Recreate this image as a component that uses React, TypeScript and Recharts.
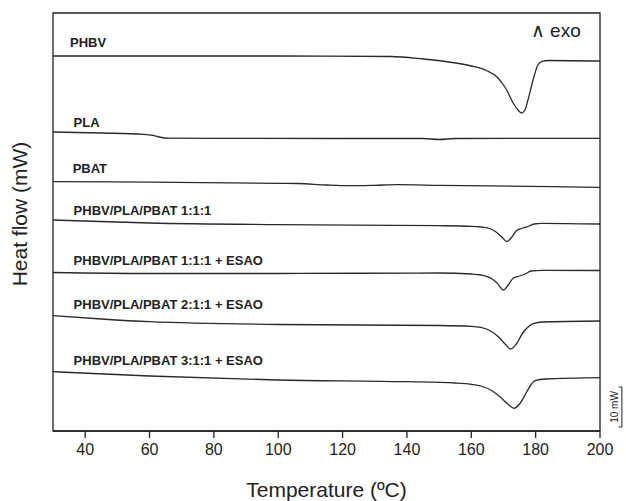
import React from "react";
import {
  LineChart,
  Line,
  XAxis,
  YAxis,
  ReferenceArea,
  ReferenceDot,
  ReferenceLine,
} from "recharts";

// temperature (°C) / heat flow (mW, curves stacked with offsets)
const T_PHBV = [30, 100, 135, 145, 153, 160, 163, 165, 168, 170, 171, 173, 174.5, 175.6, 176.7, 177.6, 179.2, 180.7, 182, 184, 200];
const HF_PHBV = [93.75, 93.75, 93.63, 93, 92.25, 91.25, 90.63, 90, 88.5, 86.5, 85.25, 82, 80.25, 79.5, 80.25, 82.75, 87.75, 91.5, 92.38, 92.63, 92.5];

const T_PLA = [30, 45, 58, 61, 63, 66, 80, 120, 145, 150, 155, 200];
const HF_PLA = [74.75, 74.5, 74.18, 73.93, 73.5, 73.2, 73.18, 73.13, 73.13, 72.88, 73.13, 73.18];

const T_PBAT = [30, 60, 100, 106, 115, 122, 130, 137, 150, 185, 200];
const HF_PBAT = [62.33, 62.2, 61.93, 61.88, 61.5, 61.33, 61.43, 61.58, 61.43, 61.08, 60.88];

const T_B111 = [30, 60, 100, 150, 160, 163, 166, 167.5, 169.5, 171, 172.5, 174, 176, 178, 179.5, 182, 200];
const HF_B111 = [52.75, 52, 51.58, 51.33, 51.18, 51, 50.5, 49.88, 48.5, 47.33, 48.38, 50.08, 50.75, 51.25, 51.75, 51.93, 51.75];

const T_B111E = [30, 60, 100, 150, 160, 163, 166.5, 168, 170, 171.5, 173, 175, 177, 178.5, 182, 200];
const HF_B111E = [39.63, 39.38, 39.38, 39.5, 39.25, 39, 38, 37, 35.25, 36.5, 38.18, 38.75, 39.38, 40, 40.18, 40.13];

const T_B211E = [30, 45, 60, 100, 150, 160, 163, 166, 168.5, 170.5, 172.2, 174, 176, 178, 179.5, 182, 200];
const HF_B211E = [28.83, 28, 27.33, 26.63, 26.38, 26.18, 25.88, 25, 23.5, 21.75, 20.5, 21.75, 24.5, 26.25, 26.93, 27.25, 27.5];

const T_B311E = [30, 60, 100, 140, 155, 160, 163, 166.5, 169, 171.5, 173.3, 175, 177.2, 178.5, 180, 183, 200];
const HF_B311E = [14.83, 13.75, 12.75, 12.33, 12, 11.68, 11.25, 10, 8.5, 6.63, 5.68, 6.75, 9.75, 11.5, 12.63, 13, 13.33];

const NAMES = [
  "PHBV",
  "PLA",
  "PBAT",
  "PHBV/PLA/PBAT 1:1:1",
  "PHBV/PLA/PBAT 1:1:1 + ESAO",
  "PHBV/PLA/PBAT 2:1:1 + ESAO",
  "PHBV/PLA/PBAT 3:1:1 + ESAO",
];
const TEMPS = [T_PHBV, T_PLA, T_PBAT, T_B111, T_B111E, T_B211E, T_B311E];
const VALUES = [HF_PHBV, HF_PLA, HF_PBAT, HF_B111, HF_B111E, HF_B211E, HF_B311E];

const X_TICKS = [40, 60, 80, 100, 120, 140, 160, 180, 200];

// where the curve names sit (data coords)
const LABEL_T = [35.3, 36.4, 36.1, 36.4, 36.4, 36.4, 36.4];
const LABEL_HF = [97.25, 77.25, 65.75, 55.25, 42.75, 31.75, 17.75];

const Y_MAX = 104.5;
const INK = "#222";
const FONT = "'Liberation Sans', Arial, sans-serif";

const series = NAMES.map((name, i) => ({
  name,
  data: TEMPS[i].map((t, j) => ({ t, hf: VALUES[i][j] })),
}));

const textShape =
  (value: string, opts: { size: number; bold?: boolean; anchor?: string; rotate?: boolean }) =>
  (p: any) => (
    <text
      x={p.cx}
      y={p.cy}
      fontSize={opts.size}
      fontWeight={opts.bold ? "bold" : "normal"}
      fontFamily={FONT}
      fill={INK}
      textAnchor={opts.anchor ?? "start"}
      dominantBaseline="central"
      transform={opts.rotate ? `rotate(-90 ${p.cx} ${p.cy})` : undefined}
    >
      {value}
    </text>
  );

export default function App() {
  return (
    <div style={{ position: "absolute", left: 0, top: 0, background: "#fff" }}>
      <LineChart
        width={626}
        height={501}
        margin={{ top: 13, right: 26, left: 53, bottom: 0 }}
      >
        <XAxis
          dataKey="t"
          type="number"
          domain={[30, 200]}
          ticks={X_TICKS}
          allowDataOverflow
          height={70}
          tickSize={7}
          tickMargin={6}
          tick={{ fontSize: 16, fill: INK, fontFamily: FONT }}
          tickLine={{ stroke: INK, strokeWidth: 1.3 }}
          axisLine={{ stroke: INK, strokeWidth: 1.3 }}
        />
        <YAxis hide type="number" domain={[0, Y_MAX]} allowDataOverflow />
        <ReferenceArea
          x1={30}
          x2={200}
          y1={0}
          y2={Y_MAX}
          fill="none"
          fillOpacity={0}
          stroke={INK}
          strokeWidth={1.3}
          ifOverflow="visible"
        />
        {series.map((s) => (
          <Line
            key={s.name}
            data={s.data}
            dataKey="hf"
            type="monotone"
            stroke="#2a2a2a"
            strokeWidth={1.3}
            dot={false}
            isAnimationActive={false}
          />
        ))}
        {NAMES.map((name, i) => (
          <ReferenceDot
            key={"lbl" + i}
            x={LABEL_T[i]}
            y={LABEL_HF[i]}
            ifOverflow="visible"
            shape={textShape(name, { size: 13, bold: true })}
          />
        ))}
        <ReferenceDot
          x={178.5}
          y={100.25}
          ifOverflow="visible"
          shape={textShape("\u2227 exo", { size: 19 })}
        />
        {/* 10 mW scale bar */}
        <ReferenceLine
          segment={[{ x: 206.8, y: 1 }, { x: 206.8, y: 11 }]}
          stroke={INK}
          strokeWidth={1}
          ifOverflow="visible"
        />
        <ReferenceLine
          segment={[{ x: 205.8, y: 11 }, { x: 206.8, y: 11 }]}
          stroke={INK}
          strokeWidth={1}
          ifOverflow="visible"
        />
        <ReferenceLine
          segment={[{ x: 205.8, y: 1 }, { x: 206.8, y: 1 }]}
          stroke={INK}
          strokeWidth={1}
          ifOverflow="visible"
        />
        <ReferenceDot
          x={204.4}
          y={6}
          ifOverflow="visible"
          shape={textShape("10 mW", { size: 10, anchor: "middle", rotate: true })}
        />
        <ReferenceDot
          x={19.6}
          y={54.25}
          ifOverflow="visible"
          shape={textShape("Heat flow (mW)", { size: 21, anchor: "middle", rotate: true })}
        />
        <ReferenceDot
          x={115}
          y={-14.5}
          ifOverflow="visible"
          shape={textShape("Temperature (\u00baC)", { size: 21, anchor: "middle" })}
        />
      </LineChart>
    </div>
  );
}
